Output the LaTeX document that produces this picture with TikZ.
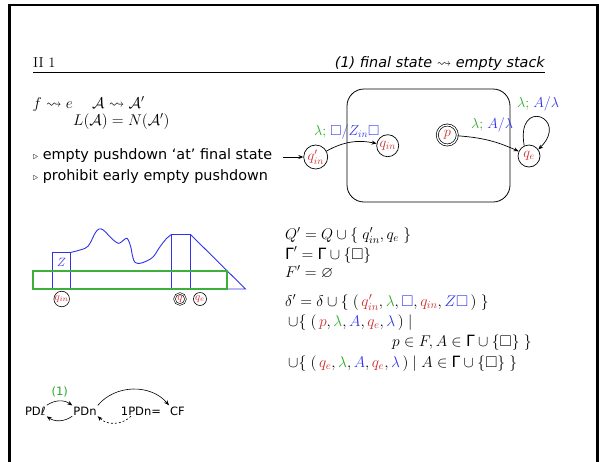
\RequirePackage{fix-cm}
\documentclass[tikz,border=0pt]{standalone}
\usepackage{amssymb}
\usepackage{fontspec}
\setsansfont{DejaVu Sans}
\usetikzlibrary{arrows.meta}
\definecolor{cred}{RGB}{205,45,45}
\definecolor{cgreen}{RGB}{40,170,40}
\definecolor{sgreen}{RGB}{60,175,60}
\definecolor{cblue}{RGB}{50,50,235}
\newcommand\colR[1]{\textcolor{cred}{#1}}
\newcommand\colG[1]{\textcolor{cgreen}{#1}}
\newcommand\colB[1]{\textcolor{cblue}{#1}}
\newcommand\sGamma{\mbox{\sffamily Γ}}
\begin{document}
\begin{tikzpicture}[x=1pt,y=1pt, font=\fontsize{14.4}{17}\selectfont,
  arr/.style={-{Stealth[length=5pt,width=4pt]}, line width=0.7pt},
  st/.style={circle, draw, line width=0.7pt, inner sep=0pt, minimum size=22pt, text=cred},
  sst/.style={circle, draw, line width=0.6pt, inner sep=0pt, minimum size=13pt, text=cred, font=\fontsize{11}{12}\selectfont},
  txt/.style={anchor=base west, inner sep=0pt},
  mth/.style={txt, font=\fontsize{15.5}{18}\selectfont},
  bt/.style={anchor=base, inner sep=1pt, font=\fontsize{11.5}{13}\selectfont\sffamily},
  sf/.style={font=\fontsize{14.4}{17}\selectfont\sffamily}]
\useasboundingbox (0,0) rectangle (599,-461);
\clip (0,0) rectangle (599,-461);
\draw[line width=2.5pt] (9.5,-480) -- (9.5,-5.2) -- (597.7,-5.2) -- (597.7,-480);
% header
\node[txt] (hl) at (33,-67) {II 1};
\node[anchor=base east, inner sep=0pt, font=\fontsize{14.4}{17}\selectfont\sffamily\itshape] (hr) at (545,-67) {(1) final state $\rightsquigarrow$ empty stack};
\draw[line width=1.8pt] (33,-72.5) -- (545,-72.5);
% left text
\node[mth] (f1) at (32.5,-108) {$f\rightsquigarrow e$};
\node[mth] (f2) at (92,-108) {$\mathcal{A}\rightsquigarrow\mathcal{A}'$};
\node[mth] (f3) at (73,-125) {$L(\mathcal{A})=N(\mathcal{A}')$};
\node[txt, sf] (b1) at (33,-159) {$\scriptstyle\triangleright$ empty pushdown `at' final state};
\node[txt, sf] (b2) at (33,-180) {$\scriptstyle\triangleright$ prohibit early empty pushdown};
% automaton
\node[draw, line width=0.8pt, rounded corners=17pt, minimum width=163pt, minimum height=113pt] (box) at (428.5,-145.5) {};
\node[st, minimum size=24pt] (qi0) at (315.7,-157) {$q'_{in}$};
\node[st] (qi) at (387.7,-145.7) {$q_{in}$};
\node[st, double, double distance=1.3pt, minimum size=20pt] (p) at (447.3,-135) {$p$};
\node[st] (qe) at (529,-156) {$q_e$};
\coordinate (in0) at (283,-157);
\draw[arr] (in0) -- (qi0);
\draw[arr] (qi0) to[bend left=20] (qi);
\node[txt] (l1) at (314,-135) {$\colG{\lambda;}\;\colB{\Box/Z_{in}\Box}$};
\draw[arr] (p) to[bend left=10] (qe);
\node[txt] (l2) at (471,-128) {$\colG{\lambda;}\;\colB{A/\lambda}$};
\draw[arr] (qe.115) .. controls +(100:50) and +(45:45) .. (qe.35);
\node[txt] (l3) at (517,-107) {$\colG{\lambda;}\;\colB{A/\lambda}$};
% stack picture
\draw[cblue, line width=0.9pt] (52.5,-289) rectangle (70.5,-252.5);
\node[text=cblue, inner sep=0pt, font=\fontsize{12}{13}\selectfont] (z) at (61.5,-262.5) {$Z$};
\draw[cblue, line width=0.9pt] plot[smooth, tension=0.6] coordinates {(70.5,-252.5) (85,-248.3) (90,-243.3) (95,-233.3) (99,-229) (103.3,-230) (108.3,-235) (113.3,-240) (118.3,-243.3) (121.7,-241.7) (126,-238.3) (128.3,-240) (130.7,-246.7) (132.7,-256.7) (135,-262.3) (140,-263.3) (146.7,-261) (153.3,-256.7) (160,-246.7) (166.7,-238.3) (171.5,-234.5)};
\draw[cblue, line width=0.9pt] (171.5,-289) rectangle (190.5,-234.5);
\draw[cblue, line width=0.9pt] (190.5,-234.5) -- (245.5,-289) -- (227,-289);
\draw[draw=sgreen, line width=2pt] (33,-271) rectangle (227,-289);
\node[sst] (s1) at (61.7,-299) {$q_{in}$};
\node[sst, double, double distance=0.9pt, minimum size=11pt] (s2) at (180,-299) {$q$};
\node[sst] (s3) at (200,-299) {$q_e$};
% equations
\node[mth] (e1) at (285,-239) {$Q'=Q\cup\{\;q'_{in},q_e\;\}$};
\node[mth] (e2) at (285,-259.5) {$\sGamma'=\sGamma\cup\{\Box\}$};
\node[mth] (e3) at (285,-277.5) {$F'=\varnothing$};
\node[mth] (e4) at (285,-306) {$\delta'=\delta\cup\{\;(\,\colR{q'_{in}},\colG{\lambda},\colB{\Box},\colR{q_{in}},\colB{Z\Box}\,)\;\}$};
\node[mth] (e5) at (288,-326) {$\cup\{\;(\,\colR{p},\colG{\lambda},\colB{A},\colR{q_e},\colB{\lambda}\,)\mid$};
\node[mth] (e6) at (392,-346) {$p\in F, A\in\sGamma\cup\{\Box\}\;\}$};
\node[mth] (e7) at (288,-367) {$\cup\{\;(\,\colR{q_e},\colG{\lambda},\colB{A},\colR{q_e},\colB{\lambda}\,)\mid A\in\sGamma\cup\{\Box\}\;\}$};
% bottom diagram
\node[bt] (pdl) at (35.3,-415) {PDℓ};
\node[bt] (pdn) at (85,-415) {PDn};
\node[bt] (pd1) at (141,-415) {1PDn=};
\node[bt] (cf) at (177.5,-415) {CF};
\node[bt, text=cgreen] (one) at (59.7,-395) {(1)};
\draw[arr, line width=0.6pt] (pdl.north east) to[bend left=35] (pdn.north west);
\draw[arr, line width=0.6pt] (pdn.south west) to[bend left=35] (pdl.south east);
\draw[arr, line width=0.6pt] (pdn.north east) to[bend left=50] (cf.north west);
\draw[arr, line width=0.6pt, dash pattern=on 2pt off 2pt] ([xshift=-10pt]pd1.south) to[bend left=45] (pdn.south east);
\end{tikzpicture}
\end{document}
